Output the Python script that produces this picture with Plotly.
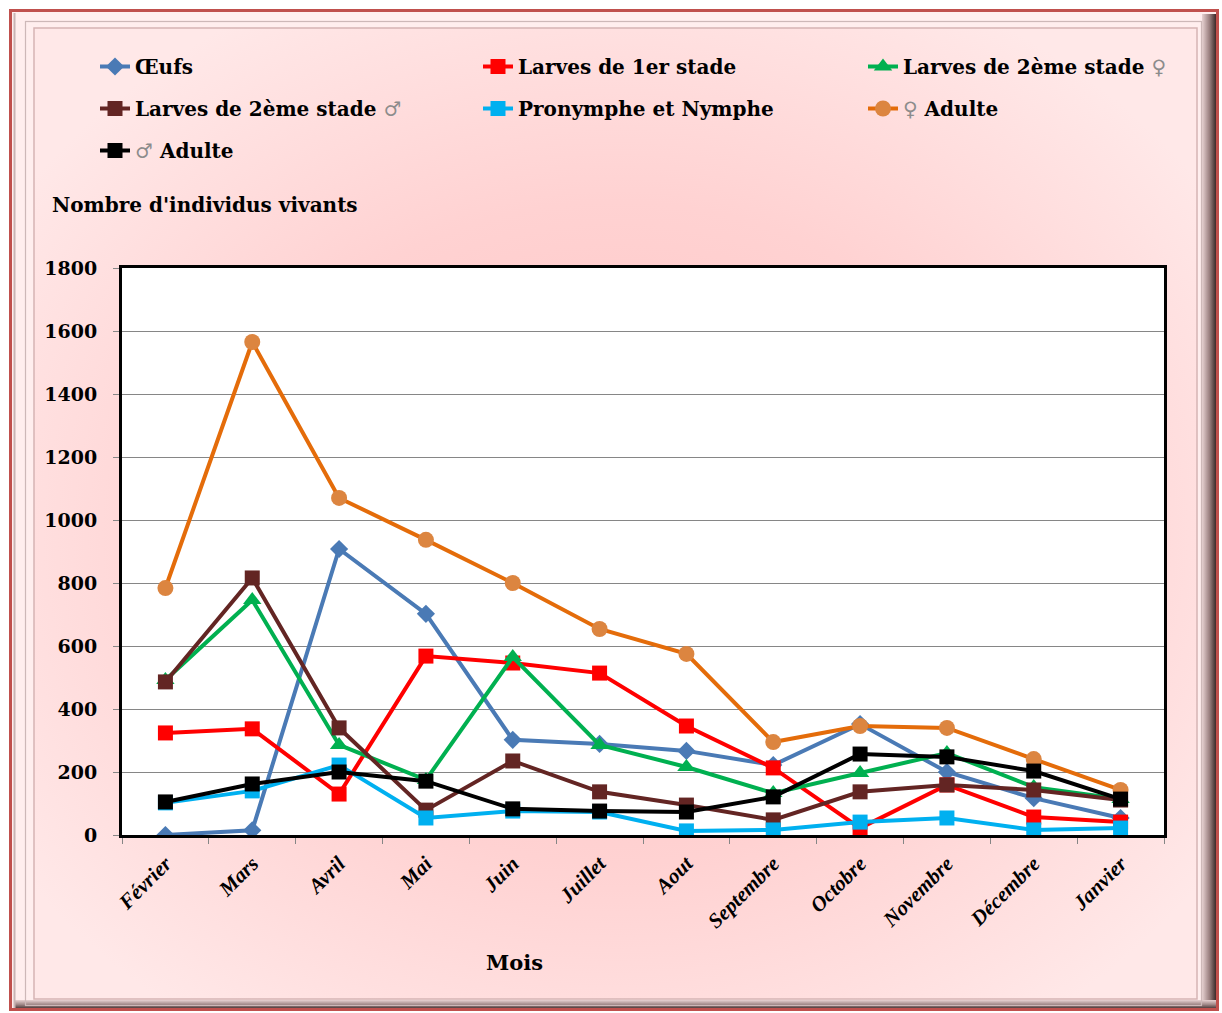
import base64
import plotly.graph_objects as go

# Monthly counts of living individuals per developmental stage
mois = ["Février", "Mars", "Avril", "Mai", "Juin", "Juillet", "Aout",
        "Septembre", "Octobre", "Novembre", "Décembre", "Janvier"]

oeufs = [0, 15, 908, 702, 302, 289, 267, 222, 352, 200, 117, 54]
larves_1 = [324, 337, 130, 568, 546, 514, 346, 213, 22, 159, 57, 41]
larves_2_f = [492, 746, 286, 175, 565, 286, 216, 133, 197, 260, 152, 114]
larves_2_m = [486, 816, 340, 79, 235, 137, 95, 48, 137, 159, 143, 111]
pronymphe_nymphe = [102, 140, 222, 54, 76, 73, 13, 16, 41, 54, 16, 22]
adulte_f = [784, 1565, 1070, 937, 800, 654, 575, 295, 346, 340, 241, 143]
adulte_m = [105, 162, 200, 171, 83, 76, 73, 121, 257, 248, 203, 114]

y_ticks = list(range(0, 1801, 200))

W, H = 1222, 1013
ML, MR, MT, MB = 122, 58, 268, 178
PW, PH = W - ML - MR, H - MT - MB

SEX = "<span style='color:#8c8c8c;font-weight:normal'>{}</span>"

# Legend is laid out in three columns (legend, legend2, legend3)
series = [
    dict(name="Œufs", y=oeufs, line="#4a7ab5", marker="#4a7ab5",
         symbol="diamond", size=14, legend="legend"),
    dict(name="Larves de 1er stade", y=larves_1, line="#ff0000", marker="#ff0000",
         symbol="square", size=15, legend="legend2"),
    dict(name="Larves de 2ème stade " + SEX.format("♀"), y=larves_2_f, line="#00b050",
         marker="#00b050", symbol="triangle-up", size=16, legend="legend3"),
    dict(name="Larves de 2ème stade " + SEX.format("♂"), y=larves_2_m, line="#632523",
         marker="#632523", symbol="square", size=15, legend="legend"),
    dict(name="Pronymphe et Nymphe", y=pronymphe_nymphe, line="#00b0f0",
         marker="#00b0f0", symbol="square", size=15, legend="legend2"),
    dict(name=SEX.format("♀") + " Adulte", y=adulte_f, line="#e46c0a",
         marker="#dc8540", symbol="circle", size=16, legend="legend3"),
    dict(name=SEX.format("♂") + " Adulte", y=adulte_m, line="#000000",
         marker="#000000", symbol="square", size=15, legend="legend"),
]

fig = go.Figure()
for i, s in enumerate(series):
    fig.add_trace(go.Scatter(
        x=mois, y=s["y"], name=s["name"], mode="lines+markers",
        line=dict(color=s["line"], width=4),
        marker=dict(color=s["marker"], symbol=s["symbol"], size=s["size"],
                    line=dict(width=0)),
        legend=s["legend"], legendgroup=f"g{i}",
    ))

# Framed, softly shaded background panel
svg = f"""<svg xmlns="http://www.w3.org/2000/svg" width="{W}" height="{H}" viewBox="0 0 {W} {H}">
<defs>
<radialGradient id="bg" cx="0.5" cy="0.52" r="0.62">
<stop offset="0" stop-color="#ffc2c2"/>
<stop offset="0.55" stop-color="#ffd2d2"/>
<stop offset="1" stop-color="#ffe8e8"/>
</radialGradient>
<linearGradient id="rb" x1="0" x2="1" y1="0" y2="0">
<stop offset="0" stop-color="#e8d2d2"/>
<stop offset="0.5" stop-color="#9a7f7f"/>
<stop offset="1" stop-color="#2e1c1c"/>
</linearGradient>
<linearGradient id="bb" x1="0" x2="0" y1="0" y2="1">
<stop offset="0" stop-color="#e8d2d2"/>
<stop offset="0.5" stop-color="#a08888"/>
<stop offset="1" stop-color="#3c2a2a"/>
</linearGradient>
</defs>
<rect x="0" y="0" width="{W}" height="{H}" fill="#ffffff"/>
<rect x="11" y="11" width="1206" height="998" fill="#ffeeee"/>
<rect x="1202" y="14" width="15" height="995" fill="url(#rb)"/>
<rect x="14" y="1000" width="1203" height="9" fill="url(#bb)"/>
<line x1="14.5" y1="13" x2="14.5" y2="1008" stroke="#c8b4b4" stroke-width="2"/>
<rect x="25.5" y="21.5" width="1176" height="984" fill="none" stroke="#cdb8b8" stroke-width="1.2"/>
<rect x="34" y="28" width="1163" height="971" fill="url(#bg)" stroke="#d6b4b4" stroke-width="1.5"/>
<rect x="10.5" y="10.5" width="1207" height="999" fill="none" stroke="#c0504d" stroke-width="3"/>
</svg>"""
svg_uri = "data:image/svg+xml;base64," + base64.b64encode(svg.encode("utf-8")).decode("ascii")

fig.add_layout_image(dict(
    source=svg_uri, xref="paper", yref="paper",
    x=-ML / PW, y=1 + MT / PH, sizex=W / PW, sizey=H / PH,
    xanchor="left", yanchor="top", sizing="stretch", layer="below",
))
# White plotting area over the shaded panel
fig.add_shape(type="rect", xref="paper", yref="paper", x0=0, x1=1, y0=0, y1=1,
              fillcolor="#ffffff", line=dict(width=0), layer="below")

serif = "DejaVu Serif"
legend_font = dict(family=serif, size=20, color="#000000", weight="bold")
legend_common = dict(orientation="v", bgcolor="rgba(0,0,0,0)", borderwidth=0,
                     font=legend_font, tracegroupgap=13,
                     xanchor="left", yanchor="top", y=(MT + PH - 47) / PH)


def col_x(px):
    return (px - ML) / PW


fig.update_layout(
    width=W, height=H, autosize=False,
    margin=dict(l=ML, r=MR, t=MT, b=MB, autoexpand=False),
    paper_bgcolor="#ffffff", plot_bgcolor="#ffffff",
    showlegend=True,
    legend=dict(**legend_common, x=col_x(95)),
    legend2=dict(**legend_common, x=col_x(478)),
    legend3=dict(**legend_common, x=col_x(863)),
    xaxis=dict(
        type="category", categoryorder="array", categoryarray=mois,
        range=[-0.5, len(mois) - 0.5],
        showgrid=False, zeroline=False,
        showline=True, linecolor="#000000", linewidth=3, mirror=True,
        ticks="outside", tickson="boundaries", ticklen=6, tickcolor="#868686",
        tickangle=-45, ticklabelstandoff=5,
        tickfont=dict(family="Liberation Serif", size=21, color="#000000",
                      weight="bold", style="italic"),
    ),
    yaxis=dict(
        range=[0, 1800], tickvals=y_ticks, ticktext=[str(v) for v in y_ticks],
        showgrid=True, gridcolor="#868686", gridwidth=1, zeroline=False,
        showline=True, linecolor="#000000", linewidth=3, mirror=True,
        ticks="outside", ticklen=6, tickcolor="#868686",
        ticklabelstandoff=12,
        tickfont=dict(family=serif, size=19, color="#000000", weight="bold"),
    ),
    annotations=[
        dict(text="Nombre d'individus vivants", xref="paper", yref="paper",
             x=(50 - ML) / PW, y=(MT + PH - 205) / PH, xanchor="left", yanchor="middle",
             showarrow=False, font=dict(family=serif, size=20, color="#000000", weight="bold")),
        dict(text="Mois", xref="paper", yref="paper",
             x=(514 - ML) / PW, y=(MT + PH - 962) / PH, xanchor="center", yanchor="middle",
             showarrow=False, font=dict(family=serif, size=21, color="#000000", weight="bold")),
    ],
)

fig.write_html("out.html")
